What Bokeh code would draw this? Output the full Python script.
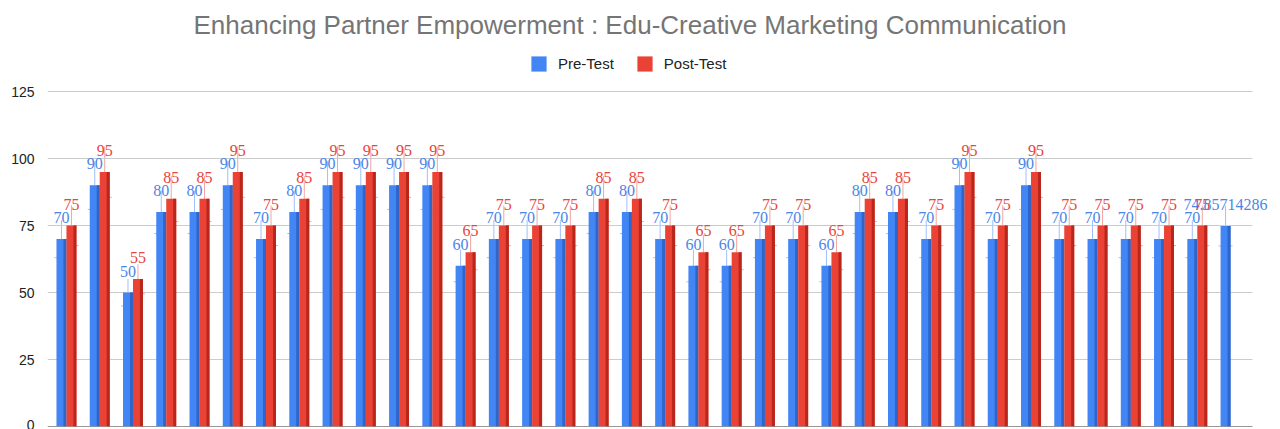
from bokeh.plotting import figure
from bokeh.models import (ColumnDataSource, Range1d, Legend, LegendItem, Whisker,
                          TeeHead, FixedTicker, LabelSet)
from bokeh.embed import file_html
from bokeh.resources import INLINE
import numpy as np

# ---- data ----
pre_test = [70, 90, 50, 80, 80, 90, 70, 80, 90, 90, 90, 90, 60, 70, 70, 70, 80, 80,
            70, 60, 60, 70, 70, 60, 80, 80, 70, 90, 70, 90, 70, 70, 70, 70, 70,
            74.85714286]
post_test = [75, 95, 55, 85, 85, 95, 75, 85, 95, 95, 95, 95, 65, 75, 75, 75, 85, 85,
             75, 65, 65, 75, 75, 65, 85, 85, 75, 95, 75, 95, 75, 75, 75, 75, 75,
             None]
pre_labels = ["70", "90", "50", "80", "80", "90", "70", "80", "90", "90", "90", "90",
              "60", "70", "70", "70", "80", "80", "70", "60", "60", "70", "70", "60",
              "80", "80", "70", "90", "70", "90", "70", "70", "70", "70", "70",
              "74.85714286"]
post_labels = ["75", "95", "55", "85", "85", "95", "75", "85", "95", "95", "95", "95",
               "65", "75", "75", "75", "85", "85", "75", "65", "65", "75", "75", "65",
               "85", "85", "75", "95", "75", "95", "75", "75", "75", "75", "75", ""]
y_ticks = [0, 25, 50, 75, 100, 125]
error_pct = 0.10

BLUE = "#4285F4"
BLUE_D = "#2f64c9"
RED = "#EA4335"
RED_D = "#b8261c"

n = len(pre_test)
x = np.arange(1, n + 1, dtype=float)
pre = np.array(pre_test, dtype=float)
post = np.array([np.nan if v is None else v for v in post_test], dtype=float)

bw = 0.30
strip = 0.09

src_pre = ColumnDataSource(dict(
    x=x - bw / 2, xs=x - strip / 2, top=pre, lab=pre_labels,
    lo=pre * (1 - error_pct), hi=pre * (1 + error_pct)))
post_mask = ~np.isnan(post)
src_post = ColumnDataSource(dict(
    x=(x + bw / 2)[post_mask], xs=(x + bw - strip / 2)[post_mask], top=post[post_mask],
    lab=[l for l, m in zip(post_labels, post_mask) if m],
    lo=(post * (1 - error_pct))[post_mask], hi=(post * (1 + error_pct))[post_mask]))

# layout geometry (pixels)
FRAME_TOP = 44
px_per_unit = (426 - 91) / 125.0
y_end = 125 + (91 - FRAME_TOP) / px_per_unit
x_start = 0.43
grid_end = 36.66          # where the gridlines stop (plot-area right edge)
x_end = grid_end + 28 / 33.26   # frame extended so the long last label is not clipped

p = figure(width=1280, height=429, output_backend="svg", toolbar_location=None,
           x_range=Range1d(x_start, x_end), y_range=Range1d(0, y_end),
           min_border_left=47, min_border_right=0, min_border_bottom=3,
           min_border_top=FRAME_TOP)
p.background_fill_color = "white"
p.border_fill_color = "white"
p.outline_line_color = None

p.title.text = "Enhancing Partner Empowerment : Edu-Creative Marketing  Communication"
p.title.align = "left"
p.title.offset = 146
p.title.text_font = "Liberation Sans"
p.title.text_font_size = "26px"
p.title.text_font_style = "normal"
p.title.text_color = "#757575"

# gridlines limited to the plot area
grid_y = [t for t in y_ticks if t > 0]
p.segment(x0=[x_start] * len(grid_y), x1=[grid_end] * len(grid_y), y0=grid_y, y1=grid_y,
          line_color="#cccccc", line_width=1)
p.segment(x0=[x_start], x1=[grid_end], y0=[0], y1=[0], line_color="#333333", line_width=1)

r_pre = p.vbar(x="x", top="top", width=bw, source=src_pre, fill_color=BLUE, line_color=None)
p.vbar(x="xs", top="top", width=strip, source=src_pre, fill_color=BLUE_D, line_color=None)
r_post = p.vbar(x="x", top="top", width=bw, source=src_post, fill_color=RED, line_color=None)
p.vbar(x="xs", top="top", width=strip, source=src_post, fill_color=RED_D, line_color=None)

for src, col in ((src_pre, "#9fc0fa"), (src_post, "#f5a49d")):
    w = Whisker(base="x", lower="lo", upper="hi", source=src,
                line_color=col, line_width=1,
                lower_head=TeeHead(size=14, line_color=col, line_width=1),
                upper_head=None)
    p.add_layout(w)

for src, col in ((src_pre, "#4a86e8"), (src_post, "#e8453c")):
    ls = LabelSet(x="x", y="top", text="lab", source=src, text_align="center",
                  text_baseline="bottom", y_offset=16, text_font_size="16px",
                  text_font="Liberation Sans", text_color=col)
    p.add_layout(ls)

p.xaxis.visible = False
p.xgrid.visible = False
p.ygrid.visible = False
p.yaxis.ticker = FixedTicker(ticks=y_ticks)
p.yaxis.axis_line_color = None
p.yaxis.major_tick_line_color = None
p.yaxis.minor_tick_line_color = None
p.yaxis.major_label_text_font = "Liberation Sans"
p.yaxis.major_label_text_font_size = "14px"
p.yaxis.major_label_text_color = "#222222"
p.yaxis.major_label_standoff = 7

legend = Legend(items=[LegendItem(label="Pre-Test", renderers=[r_pre]),
                       LegendItem(label="Post-Test", renderers=[r_post])],
                orientation="horizontal", location=(482, 353),
                glyph_width=19, glyph_height=19, label_standoff=10, spacing=21,
                label_text_font="Liberation Sans", label_text_font_size="15px",
                label_text_color="#222222", border_line_color=None,
                background_fill_alpha=0, padding=2, margin=0)
p.add_layout(legend, "center")

open("out.html", "w").write(file_html(p, INLINE))
